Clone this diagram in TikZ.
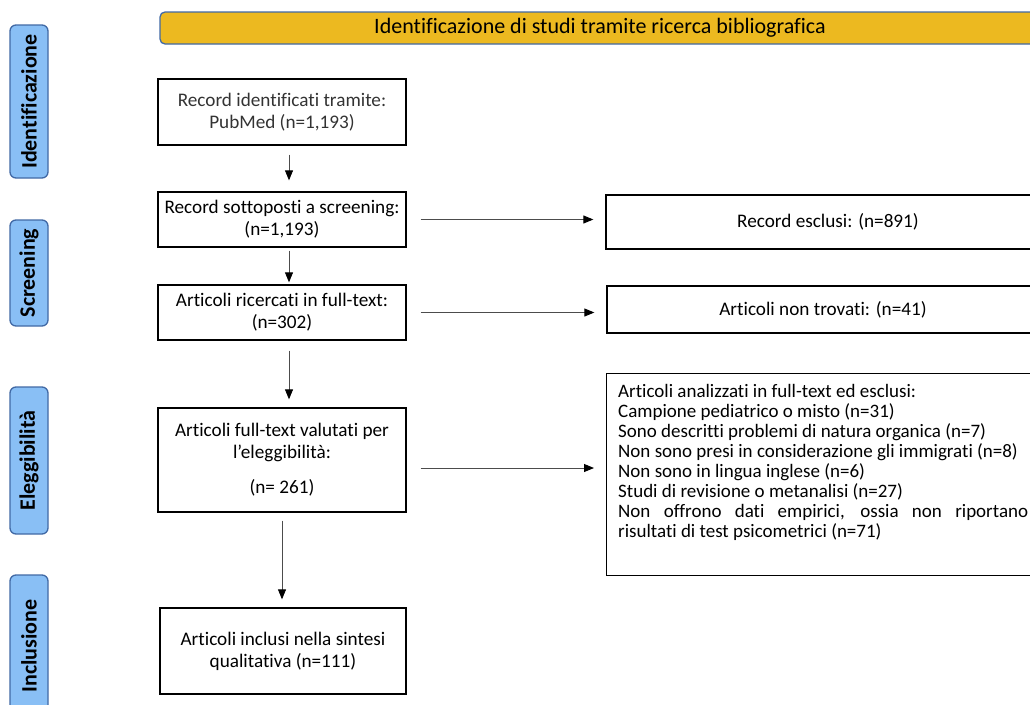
\documentclass[tikz,border=0pt]{standalone}
\usepackage{fontspec}
\setmainfont{Carlito}[Ligatures={NoCommon}]
\usetikzlibrary{arrows.meta}

\definecolor{cgold}{RGB}{236,185,32}
\definecolor{cphase}{RGB}{137,191,245}
\definecolor{cedge}{RGB}{65,105,165}
\tikzset{
  prisma/.style={x=1pt,y=-1pt},
  box/.style={draw,line width=1.3pt,minimum width=248,align=center,font=\fontsize{19.2}{22}\selectfont},
  exbox/.style={draw,line width=1.3pt,align=center,font=\fontsize{19.2}{22}\selectfont},
  phase/.style={draw=cedge,fill=cphase,line width=1.3pt,rounded corners=6,rotate=90,
                minimum height=38,font=\bfseries\fontsize{22}{26}\selectfont},
  arr/.style={black!70,line width=0.9pt,-{Triangle[length=10pt,width=8pt,color=black]}}
}

\begin{document}
\begin{tikzpicture}[prisma]
    \useasboundingbox (0,0) rectangle (1030,704);
    \clip (0,0) rectangle (1030,704);
    % phases on the left
    \foreach \nm/\yc/\len/\lab in {fident/101.5/153/Identificazione, fscreen/273/106/Screening,
                                   felig/460.5/147/Eleggibilità, fincl/646/142/Inclusione}
      \node[phase,minimum width=\len] (\nm) at (29,\yc) {\lab};
    \node[draw=cedge,fill=cgold,line width=1.3pt,rounded corners=5,minimum width=880,minimum height=32,
          font=\fontsize{22}{26}\selectfont] (title) at (600,28) {Identificazione di studi tramite ricerca bibliografica};
    % main column
    \node[box,minimum height=66,text=black!80] (rec) at (282,112) {Record identificati tramite:\\ PubMed (n=1,193)};
    \node[box,minimum height=55] (scr) at (282,219.5) {Record sottoposti a screening:\\(n=1,193)};
    \node[box,minimum height=55] (ric) at (282,312.5) {Articoli ricercati in full-text:\\(n=302)};
    \node[box,minimum height=104] (val) at (282,460) {Articoli full-text valutati per\\ l’eleggibilità:\\[13pt](n= 261)};
    \node[box,minimum height=86,minimum width=246] (inc) at (283,651) {Articoli inclusi nella sintesi\\ qualitativa (n=111)};
    % exclusions
    \node[exbox,minimum width=444,minimum height=54] (escl) at (828,222) {Record esclusi: (n=891)};
    \node[exbox,minimum width=432,minimum height=47] (nontr) at (823,309.5) {Articoli non trovati: (n=41)};
    \node[draw,line width=1.3pt,minimum width=434,minimum height=202,anchor=north west] (anal) at (606,373) {};
    \node[anchor=north west,text width=410,inner xsep=0,inner ysep=0,align=justify,
          font=\fontsize{19}{20}\selectfont] (analtxt) at (618,384) {Articoli analizzati in full-text ed esclusi:\\
      Campione pediatrico o misto (n=31)\\
      Sono descritti problemi di natura organica (n=7)\\
      Non sono presi in considerazione gli immigrati (n=8)\\
      Non sono in lingua inglese (n=6)\\
      Studi di revisione o metanalisi (n=27)\\
      Non offrono dati empirici, ossia non riportano\linebreak risultati di test psicometrici (n=71)};
    % arrows
    \draw[arr,shorten <=9pt,shorten >=11pt] ([xshift=7pt]rec.south) -- ([xshift=7pt]scr.north);
    \draw[arr,shorten <=3pt,shorten >=2pt] ([xshift=7pt]scr.south) -- ([xshift=7pt]ric.north);
    \draw[arr,shorten <=10pt,shorten >=8pt] ([xshift=7pt]ric.south) -- ([xshift=7pt]val.north);
    \draw[arr,shorten <=8pt,shorten >=8pt] (val.south) -- (val.south |- inc.north);
    \draw[arr,shorten <=14pt,shorten >=12pt] (scr.east) -- (scr.east -| escl.west);
    \draw[arr,shorten <=14pt,shorten >=12pt] (ric.east) -- (ric.east -| nontr.west);
    \draw[arr,shorten <=14pt,shorten >=12pt] ([yshift=-8pt]val.east) -- ([yshift=-8pt]val.east -| anal.west);
\end{tikzpicture}
\end{document}
